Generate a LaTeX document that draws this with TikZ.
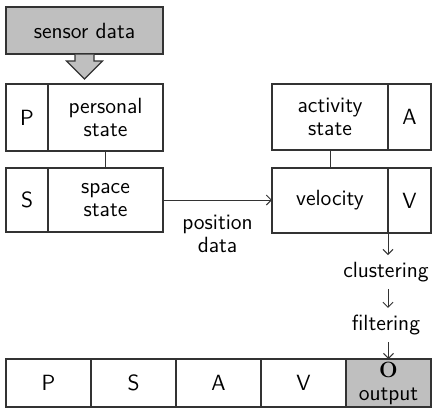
\documentclass[tikz,border=0pt]{standalone}
\usetikzlibrary{positioning,arrows.meta}

\tikzset{
  box/.style={draw=black!80, line width=0.6pt, inner sep=0pt, outer sep=0pt, align=center,
    font=\sffamily\fontsize{11}{11.5}\selectfont},
  lbl/.style={align=center, font=\sffamily\fontsize{11}{11.5}\selectfont},
  flow/.style={draw=black!80, line width=0.5pt, -{Straight Barb[length=2.5pt,width=5pt]}},
  link/.style={draw=black!80, line width=0.5pt}
}

\begin{document}
\begin{tikzpicture}[x=0.5pt,y=-0.5pt]
    \useasboundingbox (0,0) rectangle (433,409);

    % input
    \node[box, fill=black!25, minimum width=78.5pt, minimum height=23.5pt] (sensor) at (84.5,30.5) {sensor data};
    \draw[fill=black!25, draw=black!80, line width=0.6pt] ([yshift=-0.3pt]sensor.south) ++(-4.75pt,0) -- ++(0,-3.2pt) -- ++(-4.25pt,0)
        -- ++(9pt,-9pt) -- ++(9pt,9pt) -- ++(-4.25pt,0) -- ++(0,3.2pt);

    % left column
    \node[box, minimum width=21pt, minimum height=33.5pt] (p) at (27,117.5) {P};
    \node[box, minimum width=57.5pt, minimum height=33.5pt, right=0pt of p] (pers) {personal\\state};
    \node[box, minimum width=21pt, minimum height=32pt] (s) at (27,200) {S};
    \node[box, minimum width=57.5pt, minimum height=32pt, right=0pt of s] (space) {space\\state};
    \draw[link] (pers) -- (space);

    % right column
    \node[box, minimum width=58pt, minimum height=33pt] (act) at (330,117) {activity\\state};
    \node[box, minimum width=21.5pt, minimum height=33pt, right=0pt of act] (a) {A};
    \node[box, minimum width=58pt, minimum height=32.5pt] (vel) at (330,200.5) {velocity};
    \node[box, minimum width=21.5pt, minimum height=32.5pt, right=0pt of vel] (v) {V};
    \draw[link] (act) -- (vel);

    \draw[flow] (space.east) -- (space.east -| vel.west) node[midway, below=4pt, lbl] (posdata) {position\\data};

    % output row
    \node[box, minimum width=42.5pt, minimum height=24pt] (outp) at (48.5,383) {P};
    \node[box, minimum width=42.5pt, minimum height=24pt, right=0pt of outp] (outs) {S};
    \node[box, minimum width=42.5pt, minimum height=24pt, right=0pt of outs] (outa) {A};
    \node[box, minimum width=42.5pt, minimum height=24pt, right=0pt of outa] (outv) {V};
    \node[box, fill=black!25, minimum width=42.5pt, minimum height=24pt, right=0pt of outv] (outo) {{\rmfamily\bfseries O}\\output};

    % processing
    \coordinate (vout) at ([yshift=8pt]vel.south east);
    \node[lbl] (clust) at (386,272) {clustering};
    \node[lbl] (filt) at (386,325) {filtering};
    \draw[flow] (vout) -- (vout |- clust.north);
    \draw[flow] (clust.south -| vout) -- (filt.north -| vout);
    \draw[flow] (filt.south -| outo.north) -- (outo.north);
\end{tikzpicture}
\end{document}
